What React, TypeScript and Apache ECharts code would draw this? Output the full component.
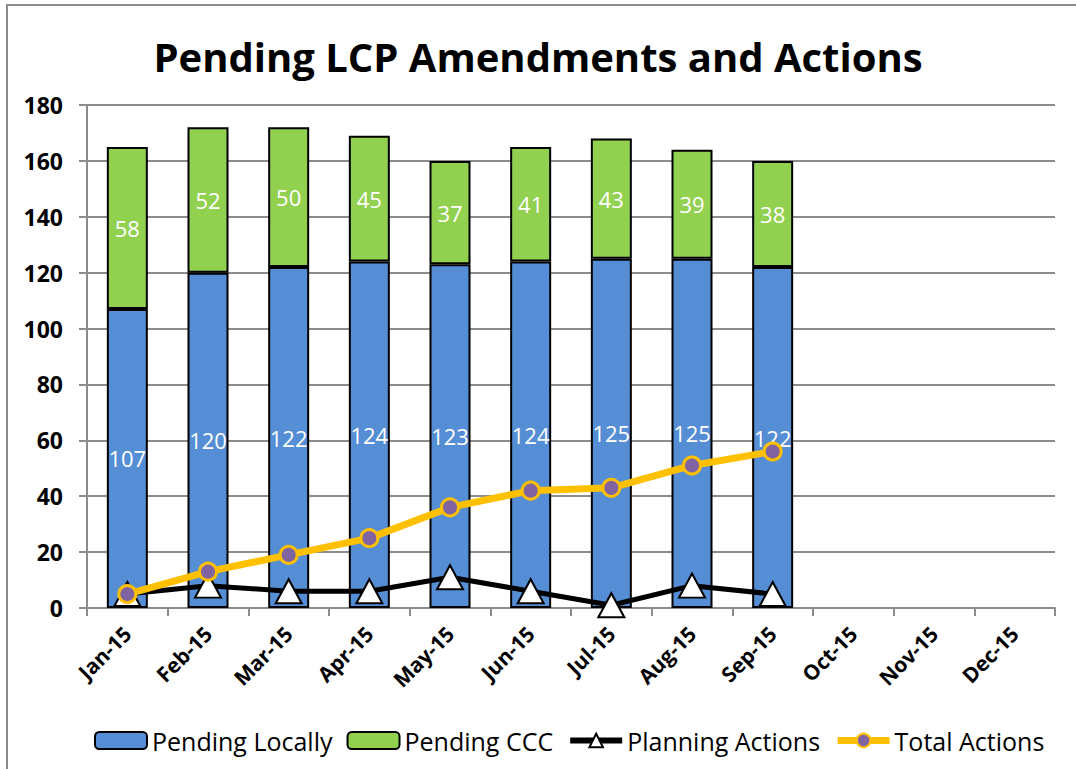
import React, { useEffect, useRef } from "react";
import * as echarts from "echarts";

const categories = ["Jan-15", "Feb-15", "Mar-15", "Apr-15", "May-15", "Jun-15", "Jul-15", "Aug-15", "Sep-15", "Oct-15", "Nov-15", "Dec-15"];
const pendingLocally = [107, 120, 122, 124, 123, 124, 125, 125, 122];
const pendingCCC = [58, 52, 50, 45, 37, 41, 43, 39, 38];
const planningActions = [5, 8, 6, 6, 11, 6, 1, 8, 5];
const totalActions = [5, 13, 19, 25, 36, 42, 43, 51, 56];
const yTicks = { min: 0, max: 180, interval: 20 };

const FONT = "'Open Sans', 'Noto Sans', sans-serif";

export default function App() {
  const ref = useRef<HTMLDivElement>(null);
  useEffect(() => {
    if (!ref.current) return;
    const chart = echarts.init(ref.current, null, { renderer: "svg" });
    chart.setOption({
      animation: false,
      backgroundColor: "#ffffff",
      textStyle: { fontFamily: FONT },
      title: {
        text: "Pending LCP Amendments and Actions",
        left: "center",
        top: 31,
        textStyle: { fontFamily: FONT, fontSize: 40, fontWeight: "bold", color: "#000" },
      },
      graphic: [
        {
          type: "rect",
          shape: { x: 7, y: 5, width: 1200, height: 900 },
          style: { fill: "none", stroke: "#8c8c8c", lineWidth: 2 },
          silent: true,
          z: -10,
        },
      ],
      legend: {
        bottom: 11,
        left: 89,
        itemWidth: 52,
        itemHeight: 17,
        itemGap: 14,
        textStyle: { fontFamily: FONT, fontSize: 25, color: "#000" },
        data: [
          { name: "Pending Locally" },
          { name: "Pending CCC" },
          { name: "Planning Actions", lineStyle: { width: 6, color: "#000" } },
          { name: "Total Actions", lineStyle: { width: 7, color: "#FFC000" } },
        ],
      },
      grid: { left: 87, right: 21, top: 105, bottom: 161 },
      xAxis: {
        type: "category",
        data: categories,
        boundaryGap: true,
        axisLine: { lineStyle: { color: "#8c8c8c", width: 2 } },
        axisTick: { show: true, length: 8, alignWithLabel: false, lineStyle: { color: "#8c8c8c", width: 2 } },
        axisLabel: {
          rotate: 45,
          margin: 22,
          interval: 0,
          fontFamily: FONT,
          fontSize: 21,
          fontWeight: "bold",
          color: "#000",
        },
        splitLine: { show: false },
      },
      yAxis: {
        type: "value",
        min: yTicks.min,
        max: yTicks.max,
        interval: yTicks.interval,
        axisLine: { show: true, lineStyle: { color: "#8c8c8c", width: 2 } },
        axisTick: { show: true, length: 8, lineStyle: { color: "#8c8c8c", width: 2 } },
        axisLabel: { margin: 24, fontFamily: FONT, fontSize: 23, fontWeight: "bold", color: "#000" },
        splitLine: { show: true, lineStyle: { color: "#8c8c8c", width: 2 } },
      },
      series: [
        {
          name: "Pending Locally",
          type: "bar",
          stack: "pending",
          barWidth: 41,
          data: pendingLocally,
          itemStyle: { color: "#558ED5", borderColor: "#000", borderWidth: 2 },
          label: { show: true, position: "inside", color: "#fff", fontSize: 22, fontFamily: FONT },
        },
        {
          name: "Pending CCC",
          type: "bar",
          stack: "pending",
          barWidth: 41,
          data: pendingCCC,
          itemStyle: { color: "#92D050", borderColor: "#000", borderWidth: 2 },
          label: { show: true, position: "inside", color: "#fff", fontSize: 22, fontFamily: FONT },
        },
        {
          name: "Planning Actions",
          type: "line",
          data: planningActions,
          symbol: "triangle",
          symbolSize: [26, 24],
          showAllSymbol: true,
          lineStyle: { color: "#000", width: 5 },
          itemStyle: { color: "#fff", borderColor: "#000", borderWidth: 2 },
          z: 3,
        },
        {
          name: "Total Actions",
          type: "line",
          data: totalActions,
          symbol: "circle",
          symbolSize: 17,
          showAllSymbol: true,
          lineStyle: { color: "#FFC000", width: 7 },
          itemStyle: { color: "#8064A2", borderColor: "#FFC000", borderWidth: 3 },
          z: 4,
        },
      ],
    });
    return () => chart.dispose();
  }, []);
  return <div ref={ref} style={{ position: "fixed", left: 0, top: 0, width: 1076, height: 769 }} />;
}
